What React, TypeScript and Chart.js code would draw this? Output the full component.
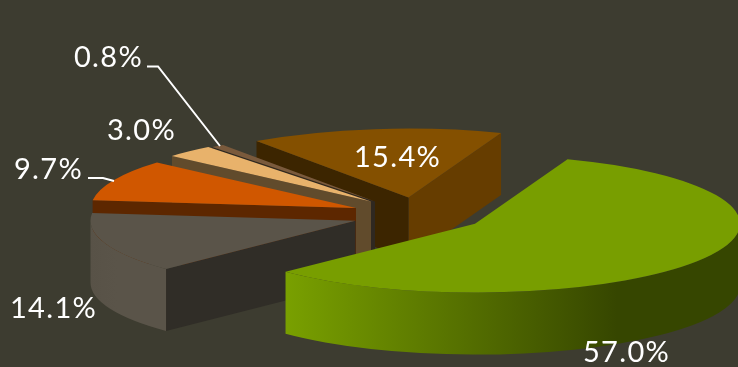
import React, { useEffect, useRef } from "react";
import { Chart, registerables } from "chart.js";

Chart.register(...registerables);

// Share of each slice, clockwise from the top-left wedge.
const categories = ["A", "B", "C", "D", "E", "F"];
const shares = [15.4, 57.0, 14.1, 9.7, 3.0, 0.8];

const topColors = ["#845000", "#789e00", "#5a5449", "#d05700", "#e8b26b", "#7a5a3c"];
const startWallColors = ["#3c2500", "#364600", "#302d27", "#5d2700", "#614b2c", "#2f2820"];
const endWallColors = ["#663d00", "#364600", "#302d27", "#5d2700", "#614b2c", "#2f2820"];
const rimStops: [number, string][][] = [
  [[0, "#663d00"], [1, "#663d00"]],
  [[0, "#79a000"], [0.73, "#364600"], [1, "#364600"]],
  [[0, "#585247"], [0.35, "#5a5449"], [1, "#5a5449"]],
  [[0, "#5d2700"], [1, "#5d2700"]],
  [[0, "#614b2c"], [1, "#614b2c"]],
  [[0, "#2f2820"], [1, "#2f2820"]],
];

// How far each wedge is pulled away from the centre, along x and down the tilted plane.
const explosion: [number, number][] = [
  [-12.5, -17.5],
  [54, 8.7],
  [-65.5, 5.8],
  [-65, -7],
  [-50, -13.5],
  [-46, -13.6],
];

const BACKGROUND = "#3d3c30";
const TILT = 0.26;
const DEPTH = 62;
const RADIUS = 265;
const PAINT_ORDER = [0, 5, 4, 3, 2, 1];

const labelAnchors: [number, number][] = [
  [354, 167],
  [583, 362],
  [10, 318],
  [14, 179],
  [107, 140],
  [74, 67],
];
const leaderLines: [number, number][][] = [
  [[88, 178], [103, 178], [114, 181]],
  [[147, 66.5], [158, 66.5], [220, 146]],
];

const pie3d = {
  id: "pie3d",
  // The wedges are painted here so that walls and tops can be layered back to front.
  beforeDatasetDraw(chart: any) {
    const { ctx } = chart;
    const arcs = chart.getDatasetMeta(0).data;
    for (const i of PAINT_ORDER) {
      const arc = arcs[i];
      const { x, y, startAngle: s, endAngle: e, outerRadius: r } = arc.getProps(
        ["x", "y", "startAngle", "endAngle", "outerRadius"],
        true,
      );
      const ax = x + explosion[i][0];
      const ay = y + explosion[i][1];
      const rim = (a: number): [number, number] => [
        ax + r * Math.cos(a),
        ay + r * TILT * Math.sin(a),
      ];

      const wall = (a: number, color: string) => {
        const [px, py] = rim(a);
        ctx.beginPath();
        ctx.moveTo(ax, ay);
        ctx.lineTo(px, py);
        ctx.lineTo(px, py + DEPTH);
        ctx.lineTo(ax, ay + DEPTH);
        ctx.closePath();
        ctx.fillStyle = color;
        ctx.fill();
      };
      if (Math.cos(e) > 0) wall(e, endWallColors[i]);
      if (Math.cos(s) < 0) wall(s, startWallColors[i]);

      // The curved outer wall shows only along the front half of the ellipse.
      for (const turn of [0, 2 * Math.PI, 4 * Math.PI]) {
        const a0 = Math.max(s, turn);
        const a1 = Math.min(e, turn + Math.PI);
        if (a1 <= a0) continue;
        const left = Math.min(rim(a0)[0], rim(a1)[0], a1 >= turn + Math.PI ? ax - r : Infinity);
        const right = a0 <= turn ? ax + r : rim(a0)[0];
        const gradient = ctx.createLinearGradient(left, 0, right, 0);
        rimStops[i].forEach(([at, color]) => gradient.addColorStop(at, color));
        ctx.beginPath();
        ctx.ellipse(ax, ay, r, r * TILT, 0, a0, a1);
        ctx.ellipse(ax, ay + DEPTH, r, r * TILT, 0, a1, a0, true);
        ctx.closePath();
        ctx.fillStyle = gradient;
        ctx.fill();
      }

      // The flat top is the library's own arc, squashed into the tilted plane.
      ctx.save();
      ctx.translate(ax - x, ay);
      ctx.scale(1, TILT);
      ctx.translate(0, -y);
      arc.draw(ctx);
      ctx.restore();
    }
    return false;
  },
  afterDatasetsDraw(chart: any) {
    const { ctx } = chart;
    ctx.save();
    ctx.strokeStyle = "#ffffff";
    ctx.lineWidth = 2;
    for (const line of leaderLines) {
      ctx.beginPath();
      line.forEach(([px, py], n) => (n ? ctx.lineTo(px, py) : ctx.moveTo(px, py)));
      ctx.stroke();
    }
    ctx.fillStyle = "#ffffff";
    ctx.font = "29px Lato";
    ctx.letterSpacing = "1.3px";
    ctx.textBaseline = "alphabetic";
    shares.forEach((value, i) => {
      const [px, py] = labelAnchors[i];
      ctx.fillText(`${value.toFixed(1)}%`, px, py);
    });
    ctx.restore();
  },
};

export default function App() {
  const canvasRef = useRef<HTMLCanvasElement>(null);

  useEffect(() => {
    const chart = new Chart(canvasRef.current!, {
      type: "pie",
      data: {
        labels: categories,
        datasets: [{ data: shares, backgroundColor: topColors, borderWidth: 0 }],
      },
      options: {
        animation: false,
        responsive: false,
        radius: RADIUS,
        rotation: 325,
        layout: { padding: { left: 104, top: 63 } },
        plugins: { legend: { display: false }, tooltip: { enabled: false } },
      },
      plugins: [pie3d],
    } as any);
    return () => chart.destroy();
  }, []);

  return (
    <div style={{ position: "fixed", inset: 0, background: BACKGROUND, overflow: "hidden" }}>
      <canvas ref={canvasRef} width={738} height={367} style={{ display: "block" }} />
    </div>
  );
}
